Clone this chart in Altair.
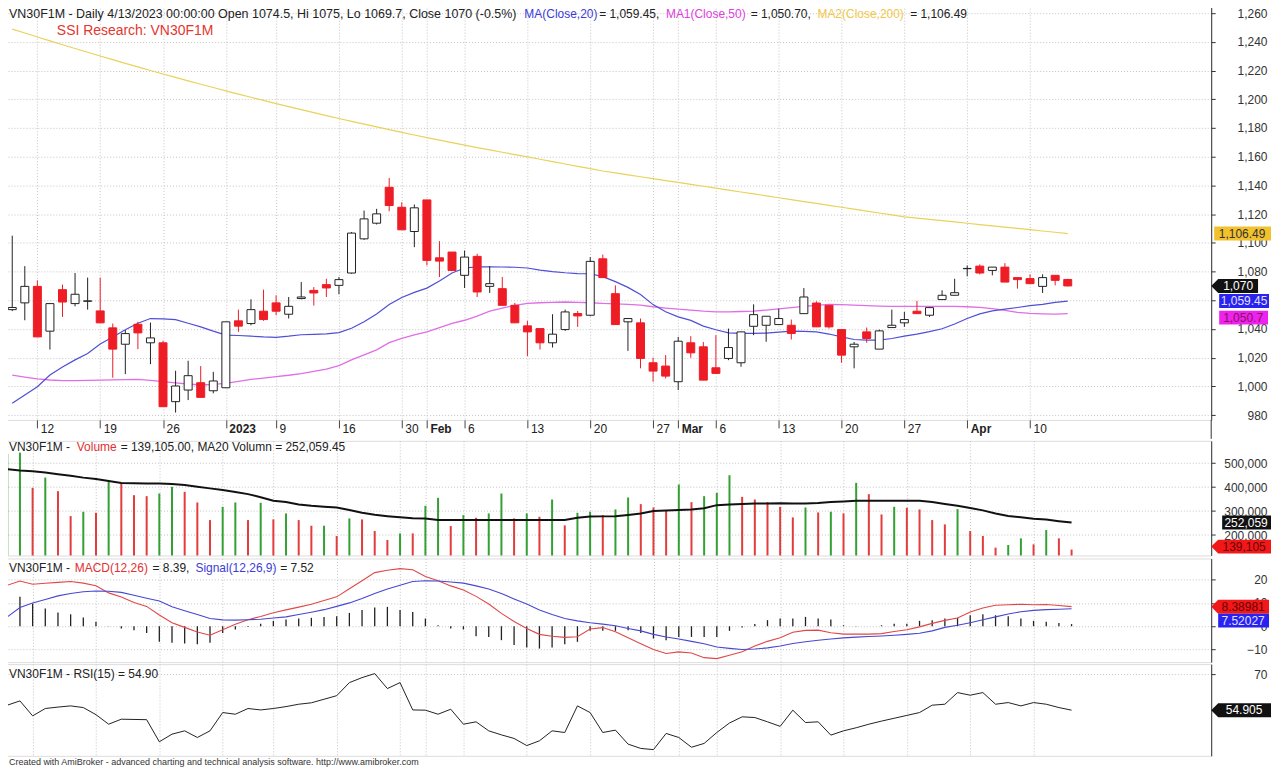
import altair as alt
import pandas as pd

# ---------------- data ----------------
IDX = list(range(85))  # trading days 2022-12-08 .. 2023-04-13

OPEN = [1053.5, 1058.2, 1069.7, 1038.5, 1067.4, 1057.7, 1059.3, 1052.6, 1040.8, 1029.4,
        1043.3, 1030.4, 1030.4, 989.4, 997.5, 1002.6, 997.0, 999.1, 1045.7, 1043.8,
        1052.4, 1058.2, 1050.3, 1061.2, 1066.9, 1070.9, 1070.4, 1079.0, 1102.8, 1113.7,
        1138.7, 1124.8, 1107.9, 1129.9, 1089.6, 1093.6, 1077.4, 1090.6, 1069.7, 1068.1,
        1056.5, 1042.2, 1040.3, 1030.4, 1039.6, 1050.8, 1049.6, 1088.9, 1064.6, 1045.0,
        1044.3, 1016.5, 1014.2, 1003.3, 1030.4, 1027.6, 1013.0, 1019.5, 1016.5, 1041.9,
        1042.6, 1043.1, 1042.6, 1050.7, 1058.1, 1056.5, 1039.6, 1027.6, 1038.0, 1026.0,
        1041.0, 1044.3, 1052.4, 1049.6, 1060.5, 1063.5, 1082.0, 1083.8, 1080.8, 1083.1,
        1075.8, 1075.1, 1069.7, 1077.4, 1074.5]
HIGH = [1105.0, 1083.8, 1073.9, 1058.0, 1070.9, 1079.0, 1075.8, 1075.8, 1043.8, 1039.2,
        1045.0, 1044.5, 1031.8, 1010.9, 1017.9, 1014.2, 1010.2, 1045.0, 1053.5, 1060.7,
        1067.4, 1063.5, 1062.3, 1072.7, 1069.2, 1075.0, 1076.2, 1107.5, 1122.5, 1123.7,
        1145.2, 1128.3, 1126.7, 1130.0, 1101.2, 1093.6, 1094.7, 1092.4, 1083.8, 1076.2,
        1058.2, 1045.7, 1040.3, 1050.3, 1053.5, 1052.6, 1090.1, 1091.9, 1070.4, 1047.5,
        1047.3, 1020.0, 1021.8, 1034.5, 1035.0, 1031.0, 1035.7, 1040.3, 1038.0, 1057.2,
        1049.0, 1054.2, 1046.6, 1068.5, 1059.3, 1056.5, 1039.6, 1031.0, 1041.0, 1039.6,
        1053.5, 1051.9, 1059.5, 1055.0, 1067.0, 1075.0, 1084.3, 1085.0, 1083.1, 1085.9,
        1075.8, 1078.1, 1078.1, 1077.4, 1075.0]
LOW = [1052.5, 1046.1, 1034.5, 1025.7, 1048.4, 1055.8, 1053.5, 1044.3, 1006.1, 1008.6,
       1026.0, 1015.5, 985.9, 981.8, 990.5, 992.4, 995.2, 999.1, 1038.0, 1042.6,
       1045.7, 1049.6, 1047.3, 1060.7, 1056.3, 1062.3, 1064.2, 1078.5, 1102.1, 1112.8,
       1122.0, 1109.1, 1097.0, 1084.3, 1076.2, 1080.4, 1068.6, 1062.3, 1065.1, 1056.5,
       1044.3, 1021.1, 1025.7, 1027.1, 1038.7, 1041.5, 1048.9, 1075.8, 1043.1, 1024.8,
       1012.6, 1003.3, 1005.6, 997.5, 1020.0, 1004.4, 1009.1, 1018.3, 1013.7, 1035.7,
       1031.1, 1043.1, 1032.7, 1050.7, 1041.5, 1040.3, 1016.5, 1012.6, 1030.4, 1026.0,
       1041.0, 1041.5, 1050.7, 1048.4, 1060.5, 1063.5, 1076.7, 1078.0, 1077.4, 1072.7,
       1068.1, 1071.6, 1065.1, 1070.4, 1069.7]
CLOSE = [1055.0, 1069.7, 1034.5, 1057.7, 1058.8, 1064.2, 1059.6, 1044.3, 1026.0, 1036.8,
         1037.3, 1033.8, 985.9, 1000.3, 1007.5, 992.4, 1003.8, 1045.0, 1042.0, 1053.5,
         1046.6, 1052.4, 1055.8, 1062.3, 1065.1, 1068.6, 1074.4, 1106.8, 1116.7, 1120.2,
         1126.0, 1109.1, 1124.4, 1087.8, 1087.3, 1080.8, 1090.1, 1065.8, 1071.6, 1056.5,
         1044.3, 1038.0, 1030.4, 1036.4, 1051.9, 1049.1, 1087.1, 1075.8, 1043.1, 1047.3,
         1019.5, 1010.7, 1007.2, 1031.5, 1023.4, 1004.4, 1009.1, 1027.1, 1038.0, 1050.0,
         1048.9, 1047.3, 1036.9, 1062.3, 1041.5, 1041.5, 1021.8, 1029.4, 1033.4, 1038.7,
         1042.6, 1046.6, 1050.7, 1054.9, 1063.5, 1065.3, 1082.2, 1079.0, 1083.1, 1072.7,
         1074.4, 1071.6, 1075.8, 1073.9, 1070.0]
MA20 = [988.3, 994.0, 999.8, 1008.0, 1013.5, 1018.5, 1023.0, 1029.5, 1034.5, 1039.5,
        1044.0, 1047.3, 1047.0, 1046.5, 1044.0, 1041.5, 1038.5, 1035.8, 1035.5, 1035.0,
        1034.5, 1034.2, 1035.0, 1036.0, 1036.3, 1036.6, 1037.5, 1040.5, 1045.0, 1050.5,
        1057.0, 1062.0, 1065.5, 1068.5, 1073.5, 1079.0, 1082.5, 1083.3, 1083.3, 1083.2,
        1083.0, 1082.5, 1081.0, 1080.0, 1079.2, 1078.6, 1078.5, 1076.5, 1073.0, 1069.0,
        1064.0, 1057.0, 1052.0, 1048.5, 1046.0, 1042.0, 1039.5, 1037.3, 1037.0, 1036.9,
        1037.2, 1037.8, 1038.5, 1038.3, 1038.0, 1036.5, 1034.5, 1032.7, 1032.3, 1032.3,
        1033.4, 1035.0, 1036.5, 1038.2, 1040.2, 1043.5, 1047.3, 1050.5, 1052.6, 1053.8,
        1055.0, 1056.3, 1057.2, 1058.5, 1059.45]
MA50 = [1007.9, 1006.5, 1005.2, 1004.5, 1004.0, 1004.0, 1004.2, 1004.4, 1004.6, 1004.8,
        1004.9, 1004.2, 1003.3, 1002.5, 1001.7, 1001.0, 1001.5, 1002.2, 1003.5, 1004.9,
        1005.8, 1006.8, 1007.8, 1009.0, 1010.5, 1012.0, 1014.5, 1018.5, 1022.0, 1025.5,
        1030.5, 1033.5, 1036.0, 1038.0, 1041.0, 1044.0, 1046.1, 1049.0, 1052.5, 1054.5,
        1056.5, 1057.8, 1058.3, 1058.6, 1058.8, 1058.6, 1058.3, 1057.8, 1057.5, 1057.2,
        1056.6, 1055.5, 1054.6, 1053.8, 1053.2, 1052.4, 1051.9, 1052.0, 1052.2, 1052.5,
        1053.2, 1054.0, 1054.9, 1055.8, 1056.5, 1057.2, 1057.0, 1056.7, 1056.3, 1056.0,
        1055.8, 1055.8, 1055.8, 1055.8, 1055.8, 1055.8, 1055.5, 1055.0, 1054.2, 1053.0,
        1051.6, 1050.9, 1050.6, 1050.4, 1050.7]
MA200 = [1248.9, 1246.13, 1243.39, 1240.68, 1238.0, 1235.35, 1232.73, 1230.14, 1227.58, 1225.05,
         1222.55, 1220.08, 1217.64, 1215.23, 1212.85, 1210.5, 1208.18, 1205.89, 1203.63, 1201.4,
         1199.2, 1197.03, 1194.89, 1192.78, 1190.7, 1188.65, 1186.63, 1184.64, 1182.68, 1180.75,
         1178.85, 1176.98, 1175.14, 1173.33, 1171.55, 1169.8, 1168.08, 1166.39, 1164.73, 1163.1,
         1161.47, 1159.84, 1158.21, 1156.58, 1154.95, 1153.32, 1151.69, 1150.06, 1148.73, 1147.4,
         1146.07, 1144.74, 1143.41, 1142.08, 1140.75, 1139.42, 1138.09, 1136.76, 1135.43, 1134.1,
         1132.77, 1131.44, 1130.11, 1128.78, 1127.45, 1126.12, 1124.79, 1123.46, 1122.13, 1120.8,
         1119.47, 1118.14, 1117.24, 1116.35, 1115.45, 1114.56, 1113.66, 1112.76, 1111.87, 1110.97,
         1110.08, 1109.18, 1108.28, 1107.39, 1106.49]
VOLUME = [540277, 544444, 397222, 440278, 383333, 279167, 297222, 293056, 422222, 415278,
          366667, 362500, 373611, 401389, 380556, 336111, 262500, 318056, 336111, 262500,
          334722, 265278, 290278, 262500, 238889, 238889, 195833, 269444, 265278, 216667,
          179167, 206944, 206944, 322222, 355556, 237500, 283333, 272222, 290278, 373611,
          269444, 290278, 276389, 348611, 240278, 293056, 297222, 283333, 306944, 356944,
          329167, 315278, 304167, 411111, 337500, 362500, 376389, 450000, 359722, 348611,
          337500, 318056, 273611, 315278, 294444, 297222, 290278, 418056, 370833, 286111,
          318056, 313889, 306944, 262500, 244444, 308333, 216667, 195833, 147222, 158333,
          186111, 161111, 220833, 186111, 139105]
VOL_DIR = ["up", "up", "down", "up", "down", "down", "up", "down", "up", "down",
           "down", "down", "up", "up", "down", "down", "down", "up", "up", "down",
           "up", "down", "up", "down", "down", "up", "down", "up", "down", "down",
           "down", "up", "down", "up", "up", "down", "up", "down", "up", "up",
           "down", "up", "down", "up", "down", "up", "up", "down", "up", "up",
           "down", "down", "down", "up", "down", "up", "up", "up", "down", "down",
           "down", "down", "down", "up", "down", "up", "down", "up", "down", "down",
           "up", "down", "down", "down", "down", "up", "down", "down", "down", "up",
           "up", "down", "up", "down", "down"]
VOL_MA20 = [475000, 470000, 467000, 461000, 454000, 448000, 440000, 434000, 426000, 418000,
            416000, 415000, 415000, 413000, 409000, 402000, 395000, 388000, 380000, 371000,
            358000, 343000, 338000, 328000, 322000, 318000, 315000, 305000, 293000, 285000,
            279000, 274000, 270000, 269000, 262500, 262500, 262500, 262500, 262500, 262500,
            262500, 262500, 262500, 262500, 263000, 272000, 277000, 278000, 279000, 284000,
            290000, 300000, 303000, 305000, 307000, 312000, 325000, 328000, 330000, 332000,
            332000, 333000, 332000, 332000, 334000, 338000, 340000, 343000, 343000, 343000,
            343000, 343000, 343000, 338000, 330000, 322000, 313000, 303000, 290000, 280000,
            274000, 268000, 265000, 258000, 252059.45]
MACD = [17.6, 19.4, 18.0, 18.4, 18.8, 19.2, 18.5, 17.4, 14.3, 12.5,
        10.2, 8.5, 4.8, 1.5, -0.5, -2.5, -3.9, -1.5, 0.8, 2.8,
        4.2, 5.8, 7.0, 8.2, 9.4, 11.0, 12.6, 16.1, 19.5, 23.0,
        24.0, 24.7, 24.2, 21.3, 19.5, 17.3, 15.5, 12.8, 9.5, 5.5,
        2.0, -1.0, -3.5, -4.3, -4.8, -4.5, -1.2, -0.6, -2.4, -5.0,
        -7.5, -10.0, -11.7, -11.0, -11.5, -13.5, -13.9, -12.5, -11.0, -8.5,
        -6.5, -5.0, -2.6, -1.8, -1.7, -2.8, -3.4, -3.4, -3.4, -3.2,
        -2.3, -1.5, -0.3, 1.2, 2.5, 3.5, 6.1, 7.8, 9.0, 9.2,
        9.4, 9.2, 9.3, 8.9, 8.38981]
SIGNAL = [4.0, 8.0, 10.0, 11.5, 13.0, 14.0, 14.8, 15.1, 15.0, 14.5,
          13.3, 12.0, 10.8, 8.3, 6.6, 5.0, 3.3, 2.7, 2.6, 2.8,
          3.0, 3.5, 4.0, 5.0, 6.0, 7.1, 8.5, 10.0, 11.9, 14.0,
          16.0, 17.6, 19.2, 19.5, 19.4, 19.0, 18.5, 17.3, 16.0, 14.0,
          11.7, 9.5, 7.0, 5.0, 3.3, 2.3, 1.5, 0.9, 0.2, -1.0,
          -2.0, -3.5, -4.6, -5.5, -6.5, -7.5, -8.9, -9.5, -10.0, -9.8,
          -9.3, -8.5, -7.4, -6.7, -6.0, -5.5, -5.0, -4.7, -4.4, -4.2,
          -3.9, -3.5, -3.0, -2.0, -0.5, 0.4, 1.5, 2.8, 4.0, 5.2,
          6.2, 6.8, 7.1, 7.3, 7.52027]
HIST = [14.0, 12.6, 9.7, 7.6, 5.9, 5.1, 3.7, 1.9, 0.1, -1.0,
        -1.7, -2.9, -6.7, -7.1, -7.4, -7.7, -7.1, -2.9, -1.4, -0.3,
        1.1, 2.3, 2.9, 3.3, 3.6, 4.0, 4.3, 5.7, 6.9, 8.0,
        8.3, 6.9, 6.1, 3.3, 0.4, -1.0, -1.4, -4.3, -4.6, -6.0,
        -8.1, -9.1, -9.6, -9.1, -7.7, -6.7, -2.0, -2.0, -2.0, -1.7,
        -2.9, -5.3, -6.0, -4.6, -4.6, -4.6, -4.6, -2.0, -0.6, 0.9,
        2.6, 3.3, 3.3, 4.0, 3.3, 2.9, 0.4, 0.1, 0.0, 0.4,
        1.1, 1.1, 2.3, 2.6, 3.3, 3.6, 4.7, 5.1, 4.7, 4.3,
        3.3, 2.3, 1.9, 1.4, 0.9]
RSI = [57.0, 58.8, 52.5, 55.6, 56.2, 56.7, 56.0, 53.0, 49.0, 51.1,
       51.0, 50.9, 41.6, 44.8, 46.2, 43.4, 46.2, 53.9, 53.2, 55.6,
       55.0, 55.6, 56.4, 57.4, 58.0, 59.5, 61.0, 66.5, 68.6, 70.3,
       64.0, 66.5, 55.0, 54.9, 53.2, 55.3, 49.0, 50.0, 46.2, 44.5,
       43.0, 40.0, 42.0, 46.2, 45.5, 56.7, 53.9, 45.5, 46.5, 40.6,
       38.8, 38.3, 45.1, 43.4, 39.3, 40.9, 45.5, 49.5, 52.1, 51.8,
       50.0, 48.1, 54.9, 49.7, 50.0, 44.4, 46.2, 47.5, 49.0, 50.3,
       51.5, 52.7, 53.9, 57.0, 57.4, 62.3, 61.2, 62.3, 57.4, 58.1,
       56.7, 58.1, 57.4, 56.0, 54.905]

TICK_IDX = [2, 7, 12, 17, 21, 26, 31, 33, 36, 41, 46, 51, 53, 56, 61, 66, 71, 76, 81]
TICK_LABELS = ["12", "19", "26", "2023", "9", "16", "30", "Feb", "6", "13", "20", "27",
               "Mar", "6", "13", "20", "27", "Apr", "10"]
MONTH_IDX = [17, 33, 53, 76]
PRICE_TICKS = [980, 1000, 1020, 1040, 1060, 1080, 1100, 1120, 1140, 1160, 1180, 1200,
               1220, 1240, 1260]
VOL_TICKS = [200000, 300000, 400000, 500000]
MACD_TICKS = [-10, 0, 10, 20]
RSI_TICKS = [30, 70]

# ---------------- table ----------------
df = pd.DataFrame({
    "i": IDX, "o": OPEN, "h": HIGH, "l": LOW, "c": CLOSE,
    "ma20": MA20, "ma50": MA50, "ma200": MA200,
    "vol": VOLUME, "vdir": VOL_DIR, "vma": VOL_MA20,
    "macd": MACD, "sig": SIGNAL, "hist": HIST, "rsi": RSI,
})
df["dir"] = ["up" if c >= o else "down" for o, c in zip(OPEN, CLOSE)]
ONE = pd.DataFrame({"k": [0]})

FONT = "Liberation Sans"
RED = "#ee1c25"
GRIDC = "#c4c4c4"
W = 1212
H_P, H_V, H_M, H_R = 419, 115, 104, 92

XSC = alt.Scale(domain=[-0.337, 95.02], nice=False, zero=False)
PSC = alt.Scale(domain=[976.7, 1267.6], nice=False, zero=False)
VMIN = 114583
VSC = alt.Scale(domain=[VMIN, 593750], nice=False, zero=False)
MSC = alt.Scale(domain=[-15.42, 29.07], nice=False, zero=False)
RSC = alt.Scale(domain=[35.68, 74.28], nice=False, zero=False)

label_expr = "[%s][indexof([%s], datum.value)]" % (
    ",".join("'%s'" % t for t in TICK_LABELS), ",".join(str(v) for v in TICK_IDX))
bold_test = "indexof([%s], datum.value) >= 0" % ",".join(str(v) for v in MONTH_IDX)

XAX_P = alt.Axis(values=TICK_IDX, labelExpr=label_expr, title=None, grid=True,
                 gridColor=GRIDC, gridDash=[1, 2], domain=False, tickSize=8,
                 tickColor="#444", labelPadding=1, labelAlign="left",
                 labelBaseline="middle", labelOffset=3, labelFontSize=12,
                 labelFont=FONT, labelColor="#222", labelOverlap=False, labelFlush=False,
                 labelFontWeight={"condition": {"test": bold_test, "value": "bold"},
                                  "value": "normal"},
                 zindex=0)
XAX_L = alt.Axis(values=TICK_IDX, labels=False, ticks=False, domain=False, grid=True,
                 gridColor=GRIDC, gridDash=[1, 2], title=None, zindex=0)


def yaxis(values, fmt=None):
    kw = dict(orient="right", values=values, title=None, tickSize=4, tickColor="#333",
              labelPadding=52, labelAlign="right", labelBaseline="middle",
              labelFontSize=12, labelFont=FONT, labelColor="#333", labelOverlap=False,
              domainColor="#333", grid=True, gridColor=GRIDC, gridDash=[1, 2], zindex=0)
    if fmt:
        kw["format"] = fmt
    return alt.Axis(**kw)


YAX_P = yaxis(PRICE_TICKS, ",.0f")
YAX_V = yaxis(VOL_TICKS, ",.0f")
YAX_M = yaxis(MACD_TICKS, "d")
YAX_R = yaxis(RSI_TICKS, "d")

XP = alt.X("i:Q", scale=XSC, axis=XAX_P)
XL = alt.X("i:Q", scale=XSC, axis=XAX_L)


def txt(text, x, y, color="#222", size=12, weight="normal"):
    return alt.Chart(ONE).mark_text(text=text, align="left", baseline="middle", font=FONT,
                                    fontSize=size, fontWeight=weight, color=color).encode(
        x=alt.value(x), y=alt.value(y))


def box(value, label, scale, axis, field, x, path, fill, tcolor, tx, yoff=0):
    d = pd.DataFrame({field: [value], "t": [label]})
    yenc = alt.Y(field + ":Q", scale=scale, axis=axis)
    shape = alt.Chart(d).mark_point(shape=path, size=4, filled=True, fill=fill, opacity=1,
                                    strokeWidth=0, yOffset=yoff).encode(x=alt.value(x), y=yenc)
    lab = alt.Chart(d).mark_text(align="center", baseline="middle", font=FONT, fontSize=12,
                                 color=tcolor, yOffset=yoff).encode(
        x=alt.value(tx), y=yenc, text="t:N")
    return shape + lab


def arrow_path(length):
    return "M0,0 L7,-7 L%d,-7 L%d,7 L7,7 Z" % (length, length)


def rect_path(length):
    return "M0,-7 L%d,-7 L%d,7 L0,7 Z" % (length, length)


base = alt.Chart(df)

# ---------------- price panel ----------------
dir_color = alt.Color("dir:N", scale=alt.Scale(domain=["up", "down"], range=["#222222", RED]),
                      legend=None)
wick = base.mark_rule(strokeWidth=1).encode(
    x=XP, y=alt.Y("l:Q", scale=PSC, axis=YAX_P), y2="h:Q", color=dir_color)
body = base.mark_bar(width=8, strokeWidth=1).encode(
    x=XP, y=alt.Y("o:Q", scale=PSC, axis=YAX_P), y2="c:Q",
    fill=alt.Fill("dir:N", scale=alt.Scale(domain=["up", "down"], range=["#ffffff", RED]),
                  legend=None),
    stroke=alt.Stroke("dir:N", scale=alt.Scale(domain=["up", "down"], range=["#222222", RED]),
                      legend=None))
l200 = base.mark_line(color="#e9d25a", strokeWidth=1.2).encode(
    x=XP, y=alt.Y("ma200:Q", scale=PSC, axis=YAX_P))
l50 = base.mark_line(color="#e06ee6", strokeWidth=1.3).encode(
    x=XP, y=alt.Y("ma50:Q", scale=PSC, axis=YAX_P))
l20 = base.mark_line(color="#4f4fd6", strokeWidth=1.2).encode(
    x=XP, y=alt.Y("ma20:Q", scale=PSC, axis=YAX_P))

strip = alt.Chart(ONE).mark_rule(color="#555", strokeWidth=1).encode(
    x=alt.value(0), y=alt.value(H_P), y2=alt.value(H_P + 19))
strip_r = alt.Chart(ONE).mark_rule(color="#333", strokeWidth=1).encode(
    x=alt.value(W), y=alt.value(H_P), y2=alt.value(H_P + 19))

price_title = (
    txt("VN30F1M - Daily 4/13/2023 00:00:00 Open 1074.5, Hi 1075, Lo 1069.7, Close 1070 (-0.5%)",
        6, 12, size=12.5)
    + txt("MA(Close,20)", 523, 12, "#3c3cd8")
    + txt("= 1,059.45,", 598, 12)
    + txt("MA1(Close,50)", 665, 12, "#e040e0")
    + txt("= 1,050.70,", 750, 12)
    + txt("MA2(Close,200)", 817, 12, "#f0c848")
    + txt("= 1,106.49", 910, 12)
    + txt("SSI Research: VN30F1M", 54, 29, "#e3362e", 14)
)

p_boxes = (
    box(MA200[-1], "1,106.49", PSC, YAX_P, "v", 1215, rect_path(57), "#f2c12e", "#333", 1243)
    + box(CLOSE[-1], "1,070", PSC, YAX_P, "v", 1212, arrow_path(47), "#111111", "#ffffff", 1239)
    + box(MA20[-1], "1,059.45", PSC, YAX_P, "v", 1220, rect_path(50), "#2a22ee", "#e0e0ff", 1245)
    + box(MA50[-1], "1,050.7", PSC, YAX_P, "v", 1220, rect_path(49), "#ee22ee", "#8a1060", 1244, 4)
)

price = alt.layer(l200, l50, l20, wick, body, strip, strip_r, price_title, p_boxes).properties(
    width=W, height=H_P)

# ---------------- volume panel ----------------
vbar = base.mark_rule(strokeWidth=2).encode(
    x=XL, y=alt.Y("vol:Q", scale=VSC, axis=YAX_V), y2=alt.datum(VMIN),
    color=alt.Color("vdir:N", scale=alt.Scale(domain=["up", "down"],
                                              range=["#33a033", "#e23c3c"]), legend=None))
vma = base.mark_line(color="#111111", strokeWidth=2).encode(
    x=XL, y=alt.Y("vma:Q", scale=VSC, axis=YAX_V))
vol_title = (txt("VN30F1M - ", 6, 6) + txt("Volume", 74, 6, "#e03030")
             + txt("= 139,105.00, MA20 Volumn = 252,059.45", 118, 6))
v_boxes = (
    box(VOL_MA20[-1], "252,059", VSC, YAX_V, "v", 1223, rect_path(49), "#111111", "#ffffff", 1247)
    + box(VOLUME[-1], "139,105", VSC, YAX_V, "v", 1212, arrow_path(60), "#f01818", "#6a0000", 1245, -3)
)
volume = alt.layer(vbar, vma, vol_title, v_boxes).properties(width=W, height=H_V)

# ---------------- MACD panel ----------------
hist = base.mark_rule(strokeWidth=1.3, color="#222222").encode(
    x=XL, y=alt.Y("hist:Q", scale=MSC, axis=YAX_M), y2=alt.datum(0))
mline = base.mark_line(color="#e04848", strokeWidth=1.1).encode(
    x=XL, y=alt.Y("macd:Q", scale=MSC, axis=YAX_M))
sline = base.mark_line(color="#4848d0", strokeWidth=1.1).encode(
    x=XL, y=alt.Y("sig:Q", scale=MSC, axis=YAX_M))
macd_title = (txt("VN30F1M - ", 6, 10) + txt("MACD(12,26)", 72, 10, "#e03030")
              + txt("= 8.39,", 150, 10) + txt("Signal(12,26,9)", 193, 10, "#3c3cd8")
              + txt("= 7.52", 278, 10))
m_boxes = (
    box(MACD[-1], "8.38981", MSC, YAX_M, "v", 1212, arrow_path(58), "#f01818", "#6a0000", 1244)
    + box(SIGNAL[-1], "7.52027", MSC, YAX_M, "v", 1219, rect_path(51), "#2a22ee", "#e0e0ff", 1244, 12)
)
macd = alt.layer(hist, mline, sline, macd_title, m_boxes).properties(width=W, height=H_M)

# ---------------- RSI panel ----------------
rline = base.mark_line(color="#222222", strokeWidth=1).encode(
    x=XL, y=alt.Y("rsi:Q", scale=RSC, axis=YAX_R))
rsi_title = txt("VN30F1M - RSI(15) = 54.90", 6, 10)
r_boxes = box(RSI[-1], "54.905", RSC, YAX_R, "v", 1212, arrow_path(60), "#111111", "#ffffff", 1245)
footer = txt("Created with AmiBroker - advanced charting and technical analysis software. "
             "http://www.amibroker.com", 6, 98.5, "#333", 9)
rsi = alt.layer(rline, rsi_title, r_boxes, footer).properties(width=W, height=H_R)

chart = alt.vconcat(price, volume, macd, rsi, spacing=0).resolve_scale(
    color="independent", fill="independent", stroke="independent"
).properties(
    padding={"left": -6, "top": -8, "right": 0, "bottom": 0}, background="white"
).configure_view(stroke="#555555", strokeWidth=1).configure(font=FONT)

chart.save("out.html", embed_options={"renderer": "svg", "actions": False})
